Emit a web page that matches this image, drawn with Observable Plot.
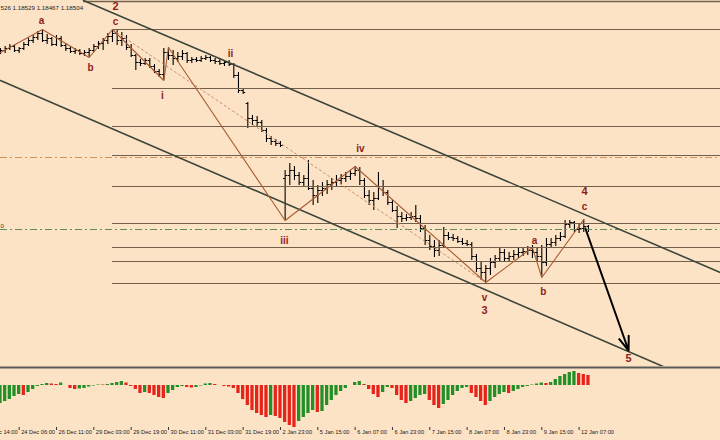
<!DOCTYPE html>
<html><head><meta charset="utf-8">
<script src="https://cdn.jsdelivr.net/npm/d3@7"></script>
<script src="https://cdn.jsdelivr.net/npm/@observablehq/plot@0.6"></script>
<style>
html,body{margin:0;padding:0;background:#fde3c5;}
#chart{width:720px;height:440px;overflow:hidden;background:#fde3c5;}
#chart svg{display:block;}
</style></head><body><div id="chart"></div>
<script>
// ---------- data ----------
const barHours = 2; // each bar = 2 hours
// [open, high, low, close]
const ohlc = [
[1.2028,1.2032,1.2026,1.2030],[1.2030,1.2034,1.2027,1.2032],[1.2032,1.2036,1.2030,1.2034],[1.2034,1.2035,1.2028,1.2030],
[1.2030,1.2033,1.2027,1.2032],[1.2032,1.2038,1.2030,1.2036],[1.2036,1.2042,1.2034,1.2040],[1.2040,1.2045,1.2037,1.2043],
[1.2043,1.2049,1.2040,1.2047],[1.2047,1.2051,1.2038,1.2040],[1.2040,1.2046,1.2036,1.2042],[1.2042,1.2043,1.2034,1.2036],
[1.2036,1.2045,1.2034,1.2042],[1.2042,1.2044,1.2033,1.2035],[1.2035,1.2037,1.2029,1.2032],[1.2032,1.2034,1.2027,1.2029],
[1.2029,1.2032,1.2026,1.2030],[1.2030,1.2031,1.2025,1.2027],[1.2027,1.2030,1.2024,1.2028],[1.2028,1.2032,1.2023,1.2030],
[1.2030,1.2036,1.2028,1.2034],[1.2034,1.2039,1.2031,1.2037],[1.2037,1.2042,1.2030,1.2040],[1.2040,1.2047,1.2036,1.2044],
[1.2044,1.2051,1.2038,1.2047],[1.2047,1.2050,1.2035,1.2040],[1.2040,1.2048,1.2034,1.2042],[1.2042,1.2045,1.2030,1.2033],
[1.2033,1.2036,1.2023,1.2025],[1.2025,1.2026,1.2010,1.2018],[1.2018,1.2021,1.2014,1.2017],[1.2017,1.2022,1.2015,1.2020],
[1.2020,1.2022,1.2012,1.2014],[1.2014,1.2016,1.2007,1.2009],[1.2009,1.2011,1.2003,1.2006],[1.2006,1.2032,1.2000,1.2028],
[1.2028,1.2033,1.2020,1.2025],[1.2025,1.2030,1.2015,1.2022],[1.2022,1.2028,1.2018,1.2024],[1.2024,1.2030,1.2020,1.2027],
[1.2027,1.2028,1.2017,1.2020],[1.2020,1.2023,1.2017,1.2021],[1.2021,1.2023,1.2018,1.2020],[1.2020,1.2024,1.2018,1.2022],
[1.2022,1.2025,1.2020,1.2023],[1.2023,1.2024,1.2018,1.2020],[1.2020,1.2022,1.2016,1.2019],[1.2019,1.2022,1.2015,1.2017],
[1.2017,1.2020,1.2014,1.2018],[1.2018,1.2020,1.2014,1.2016],[1.2016,1.2017,1.2002,1.2005],[1.2005,1.2008,1.1987,1.1990],
[1.1990,1.1992,1.1986,1.1988],[1.1977,1.1978,1.1952,1.1962],[1.1962,1.1965,1.1955,1.1960],[1.1960,1.1964,1.1954,1.1958],
[1.1958,1.1960,1.1948,1.1950],[1.1950,1.1952,1.1938,1.1942],[1.1942,1.1944,1.1935,1.1939],[1.1939,1.1941,1.1934,1.1937],
[1.1937,1.1939,1.1933,1.1935],[1.1902,1.1910,1.1860,1.1905],[1.1905,1.1917,1.1895,1.1910],[1.1910,1.1914,1.1900,1.1905],
[1.1905,1.1908,1.1895,1.1898],[1.1898,1.1905,1.1894,1.1902],[1.1902,1.1920,1.1890,1.1892],[1.1892,1.1900,1.1875,1.1885],
[1.1885,1.1895,1.1877,1.1890],[1.1890,1.1898,1.1884,1.1892],[1.1892,1.1900,1.1886,1.1896],[1.1896,1.1902,1.1890,1.1898],
[1.1898,1.1905,1.1894,1.1900],[1.1900,1.1906,1.1896,1.1902],[1.1902,1.1908,1.1898,1.1904],[1.1904,1.1910,1.1900,1.1907],
[1.1907,1.1914,1.1904,1.1910],[1.1910,1.1913,1.1895,1.1900],[1.1900,1.1902,1.1882,1.1885],[1.1885,1.1890,1.1875,1.1880],
[1.1880,1.1888,1.1870,1.1882],[1.1882,1.1908,1.1880,1.1894],[1.1894,1.1900,1.1884,1.1888],[1.1888,1.1890,1.1875,1.1878],
[1.1878,1.1880,1.1868,1.1870],[1.1870,1.1874,1.1852,1.1864],[1.1864,1.1868,1.1858,1.1862],[1.1862,1.1866,1.1859,1.1863],
[1.1863,1.1868,1.1860,1.1864],[1.1864,1.1875,1.1858,1.1862],[1.1862,1.1865,1.1848,1.1852],[1.1852,1.1855,1.1835,1.1840],
[1.1840,1.1845,1.1830,1.1834],[1.1834,1.1840,1.1823,1.1830],[1.1830,1.1840,1.1824,1.1835],[1.1835,1.1853,1.1832,1.1845],
[1.1845,1.1848,1.1840,1.1843],[1.1843,1.1846,1.1839,1.1842],[1.1842,1.1844,1.1837,1.1839],[1.1839,1.1842,1.1835,1.1837],
[1.1837,1.1840,1.1834,1.1836],[1.1836,1.1838,1.1820,1.1824],[1.1824,1.1826,1.1808,1.1812],[1.1812,1.1818,1.1800,1.1808],
[1.1808,1.1815,1.1798,1.1812],[1.1812,1.1822,1.1805,1.1818],[1.1818,1.1825,1.1812,1.1822],[1.1822,1.1833,1.1818,1.1828],
[1.1828,1.1831,1.1818,1.1822],[1.1822,1.1828,1.1818,1.1824],[1.1824,1.1830,1.1820,1.1826],[1.1826,1.1832,1.1822,1.1828],
[1.1828,1.1832,1.1824,1.1829],[1.1829,1.1834,1.1825,1.1830],[1.1830,1.1835,1.1822,1.1828],[1.1828,1.1832,1.1818,1.1824],
[1.1824,1.1835,1.1803,1.1818],[1.1818,1.1842,1.1814,1.1836],[1.1836,1.1842,1.1832,1.1838],[1.1838,1.1845,1.1834,1.1842],
[1.1842,1.1848,1.1839,1.1844],[1.1844,1.1860,1.1842,1.1856],[1.1856,1.1860,1.1852,1.1858],[1.1858,1.1859,1.1848,1.1851],
[1.1851,1.1856,1.1847,1.1852],[1.1852,1.1861,1.1848,1.1854],[1.1854,1.1855,1.1848,1.1851]
];
// oscillator values, one per bar
const oscValues = [
-18,-16,-14,-11,-9,-10,-7,-4,-1,1,2,1.5,1,2.5,0,-3,-4,-3.5,-3,-1.5,
-0.5,0.5,0.5,1,2,3,4,2.5,-1,-4,-8,-7,-8,-10,-12,-13,-8,-5,-2,-1,
-2,-2.5,-2,-0.5,1.5,2,1,0,-1,-1.5,-3,-8,-14,-20,-25,-28,-30,-32,-30,-31,
-33,-37,-40,-42,-36,-32,-28,-25,-27,-26,-20,-15,-10,-6,-3,0,3,4,1,-4,
-9,-12,-7,-2,-3,-10,-15,-18,-16,-13,-10,-9,-15,-20,-23,-19,-15,-10,-6,-3,
-2,-8,-12,-16,-20,-16,-12,-9,-7,-8,-6,-4,-2,-1,0.5,1.5,2.5,2,3,6,
9,11,13,14,12,11,10
];
const dateLabels = ["23 Dec 14:00","24 Dec 06:00","26 Dec 11:00","29 Dec 03:00","29 Dec 19:00","30 Dec 11:00","31 Dec 03:00","31 Dec 19:00","2 Jan 23:00","5 Jan 15:00","6 Jan 07:00","6 Jan 23:00","7 Jan 15:00","8 Jan 07:00","8 Jan 23:00","9 Jan 15:00","12 Jan 07:00"];
const dateLabelHours = [-8,8,24,40,56,72,88,104,120,136,152,168,184,200,216,232,248];
const headerText = "526 1.18529 1.18467 1.18504";

// Elliott wave path (hour, price)
const waveHours  = [0, 18, 38, 48, 70, 72, 122, 152, 208, 228, 232, 250];
const wavePrices = [1.2028, 1.2051, 1.2023, 1.2051, 1.2000, 1.2033, 1.1860, 1.1914, 1.1798, 1.1833, 1.1803, 1.1861];
// dotted trend from wave 2 (c) to wave 3 (v)
const dottedHours  = [48, 208];
const dottedPrices = [1.2051, 1.1798];
// channel lines
const upperChannelHours  = [35.6, 308.6];
const upperChannelPrices = [1.2080, 1.1808];
const lowerChannelHours  = [0, 285];
const lowerChannelPrices = [1.2000, 1.1713];
// horizontal levels (anchored at wave 2 top)
const levelStartHour = 48;
const levelPrices = [1.2051, 1.1992, 1.1954, 1.1925, 1.1894, 1.1857, 1.1833, 1.1819, 1.1797];
const topLevelStartHour = 35.6;
const topLevelPrices = [1.2079];
const orangeLinePrices = [1.1923];
// projection arrow
const arrowHours  = [250.7, 269.2];
const arrowPrices = [1.1852, 1.1730];
// wave labels
const labelText  = ["a","b","2","c","i","ii","iii","iv","v","3","a","b","4","c","5"];
const labelHours = [17.6,38.6,49.3,49.3,69.4,98.6,121.7,154.3,207.5,207.5,228.9,232.7,250.3,250.3,269.2];
const labelPrices= [1.2060,1.2013,1.2074,1.2059,1.1985,1.2027,1.1840,1.1932,1.1783,1.1770,1.1840,1.1789,1.1889,1.1874,1.1722];

// scale settings
const xDomain = [0, 308.6];
const priceDomain = [1.1714, 1.2080];
const oscDomain = [-42, 19];

// ---------- build ----------
const bars = ohlc.map(([o,h,l,c], i) => ({t: i*barHours, o, h, l, c}));
const lastClose = ohlc[ohlc.length-1][3];
const pts = (xs, ys) => xs.map((x,i) => ({x, y: ys[i]}));
const labels = labelText.map((s,i) => ({s, x: labelHours[i], y: labelPrices[i]}));
const oscBars = oscValues.map((v,i) => ({t: i*barHours, v, color: (i === 0 || v > oscValues[i-1]) ? "#229026" : "#e5241c"}));
const dates = dateLabels.map((s,i) => ({s, t: dateLabelHours[i]}));

const font = "'Liberation Sans', Arial, sans-serif";
const levelColor = "#72604d";
const channelColor = "#3b463b";

const main = Plot.plot({
  width: 720, height: 366, margin: 0,
  x: {domain: xDomain, axis: null},
  y: {domain: priceDomain, axis: null},
  style: {background: "#fde3c5", fontFamily: font, overflow: "hidden"},
  marks: [
    // price bars
    Plot.ruleX(bars, {x: "t", y1: "l", y2: "h", stroke: "#000", strokeWidth: 1.1}),
    Plot.link(bars, {x1: d => d.t - 0.9, x2: "t", y1: "o", y2: "o", stroke: "#000"}),
    Plot.link(bars, {x1: "t", x2: d => d.t + 0.9, y1: "c", y2: "c", stroke: "#000"}),
    // horizontal levels
    Plot.ruleY(levelPrices, {x1: levelStartHour, x2: xDomain[1], stroke: levelColor, strokeWidth: 1}),
    Plot.ruleY(topLevelPrices, {x1: topLevelStartHour, x2: xDomain[1], stroke: levelColor, strokeWidth: 1.5}),
    Plot.ruleY(orangeLinePrices, {stroke: "#d4915a", strokeWidth: 1, strokeDasharray: "7,3,2,3"}),
    Plot.ruleY([lastClose], {stroke: "#5e8e5c", strokeWidth: 1, strokeDasharray: "7,3,2,3"}),
    // channels
    Plot.line(pts(upperChannelHours, upperChannelPrices), {x: "x", y: "y", stroke: channelColor, strokeWidth: 1.6}),
    Plot.line(pts(lowerChannelHours, lowerChannelPrices), {x: "x", y: "y", stroke: channelColor, strokeWidth: 1.6}),
    // dotted trend
    Plot.line(pts(dottedHours, dottedPrices), {x: "x", y: "y", stroke: "#c98d68", strokeWidth: 1, strokeDasharray: "2,3"}),
    // wave path
    Plot.line(pts(waveHours, wavePrices), {x: "x", y: "y", stroke: "#a85c34", strokeWidth: 1.1}),
    // projection arrow
    Plot.arrow([0], {x1: arrowHours[0], y1: arrowPrices[0], x2: arrowHours[1], y2: arrowPrices[1], stroke: "#000", strokeWidth: 2, headLength: 11, headAngle: 40}),
    // labels
    Plot.text(labels, {x: "x", y: "y", text: "s", fill: "#8e1c1c", fontWeight: "bold", fontSize: d => /\d/.test(d.s) ? 11 : 10, fontFamily: font}),
    // header & price tag
    Plot.text([headerText], {frameAnchor: "top-left", dx: 0, dy: 5, text: d => d, fontSize: 6.2, fill: "#222", fontFamily: font}),
    Plot.text(["0"], {frameAnchor: "left", y: [lastClose], dy: -3, text: d => d, fontSize: 6, fill: "#333", fontFamily: font})
  ]
});

const sub = Plot.plot({
  width: 720, height: 74, marginTop: 0, marginBottom: 13, marginLeft: 0, marginRight: 0,
  x: {domain: xDomain, axis: null},
  y: {domain: oscDomain, axis: null},
  color: {type: "identity"},
  style: {background: "#fde3c5", fontFamily: font, overflow: "visible"},
  marks: [
    Plot.rect(oscBars, {x1: d => d.t - 1, x2: d => d.t + 1, y1: 0, y2: "v", fill: "color", insetLeft: 0.7, insetRight: 0.7}),
    Plot.ruleY([oscDomain[1] - 1], {stroke: "#5a5a55", strokeWidth: 2}),
    Plot.ruleX(dates, {x: "t", y1: oscDomain[0], y2: oscDomain[0] - 3, stroke: "#333", strokeWidth: 1}),
    Plot.text(dates, {x: "t", text: "s", frameAnchor: "bottom", dy: 6, dx: 2, textAnchor: "start", fontSize: 5.7, fill: "#222", fontFamily: font})
  ]
});

const root = document.getElementById("chart");
root.appendChild(main);
root.appendChild(sub);
</script>
</body></html>
